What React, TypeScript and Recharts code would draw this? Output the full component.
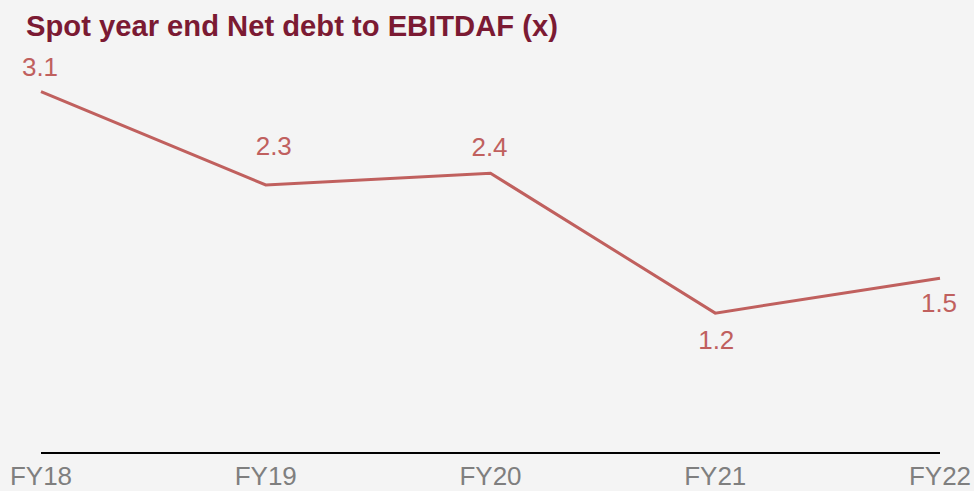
import React from "react";
import { LineChart, Line, XAxis, YAxis, LabelList } from "recharts";

const years = ["FY18", "FY19", "FY20", "FY21", "FY22"];
const netDebtToEbitdaf = [3.1, 2.3, 2.4, 1.2, 1.5];

const data = years.map((year, i) => ({ year, value: netDebtToEbitdaf[i] }));

const FONT = '"Liberation Sans", Arial, sans-serif';
const LINE_COLOR = "#c0605e";

// per-point label nudges (dx, dy from the point, dy is baseline)
const labelNudges = [
  { dx: -1, dy: -16 },
  { dx: 8, dy: -30 },
  { dx: -1, dy: -17 },
  { dx: 1, dy: 36 },
  { dx: -1, dy: 34 },
];

const PointLabel = (props: any) => {
  const { x, y, value, index } = props;
  const n = labelNudges[index] || { dx: 0, dy: -16 };
  return (
    <text
      x={x + n.dx}
      y={y + n.dy}
      textAnchor="middle"
      fill={LINE_COLOR}
      fontSize={26}
      fontFamily={FONT}
    >
      {value}
    </text>
  );
};

export default function App() {
  return (
    <div style={{ position: "relative", width: 974, height: 491, background: "#f4f4f4" }}>
      <style>{"body{margin:0}"}</style>
      <div
        style={{
          position: "absolute",
          left: 26,
          top: 12,
          fontFamily: FONT,
          fontWeight: 700,
          fontSize: 29.2,
          lineHeight: "29px",
          color: "#7b1a33",
          whiteSpace: "nowrap",
        }}
      >
        Spot year end Net debt to EBITDAF (x)
      </div>
      <LineChart
        width={974}
        height={491}
        data={data}
        margin={{ top: 45, right: 34, bottom: 0, left: 41 }}
      >
        <XAxis
          dataKey="year"
          height={38}
          interval={0}
          tickLine={false}
          tickSize={0}
          tickMargin={14}
          axisLine={{ stroke: "#000000", strokeWidth: 2 }}
          tick={{ fill: "#7f7f7f", fontSize: 26, fontFamily: FONT }}
        />
        <YAxis hide domain={[0, 3.5]} />
        <Line
          type="linear"
          dataKey="value"
          stroke={LINE_COLOR}
          strokeWidth={3}
          dot={false}
          activeDot={false}
          isAnimationActive={false}
        >
          <LabelList dataKey="value" content={<PointLabel />} />
        </Line>
      </LineChart>
    </div>
  );
}
